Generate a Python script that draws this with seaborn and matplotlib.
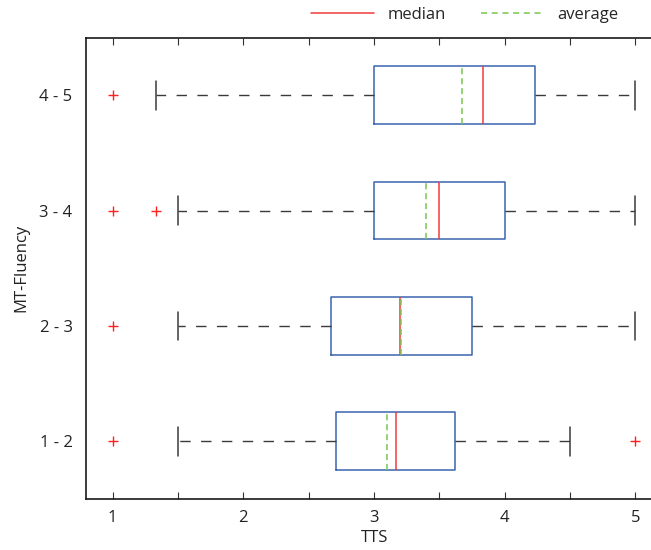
import matplotlib
matplotlib.use("Agg")
import matplotlib.pyplot as plt
from matplotlib.lines import Line2D
from matplotlib.patches import Rectangle
import seaborn as sns
import pandas as pd

# Fluency groups, bottom to top
groups = ["1 - 2", "2 - 3", "3 - 4", "4 - 5"]

# TTS summary statistics per group
whisker_low = [1.5, 1.5, 1.5, 1.33]
q1 = [2.71, 2.67, 3.0, 3.0]
medians = [3.17, 3.20, 3.50, 3.83]
means = [3.10, 3.21, 3.40, 3.67]
q3 = [3.62, 3.75, 4.0, 4.23]
whisker_high = [4.5, 5.0, 5.0, 5.0]

# Outliers beyond the whiskers
outlier_group = ["1 - 2", "1 - 2", "2 - 3", "3 - 4", "3 - 4", "4 - 5"]
outlier_value = [1.0, 5.0, 1.0, 1.0, 1.33, 1.0]

sns.set_style("ticks")
plt.rcParams["font.family"] = ["Open Sans", "DejaVu Sans"]

W, H = 651, 550
fig = plt.figure(figsize=(W / 100, H / 100), dpi=100)
px_per_unit = 130.7
left_px, right_px, top_px, bottom_px = 86.5, 663.0, 37.5, 499.0
xmin = 0.8
xmax = xmin + (right_px - left_px) / px_per_unit
ax = fig.add_axes([left_px / W, (H - bottom_px) / H,
                   (right_px - left_px) / W, (bottom_px - top_px) / H])

stats = []
for i, g in enumerate(groups):
    stats.append(dict(label=g, whislo=whisker_low[i], q1=q1[i], med=medians[i],
                      mean=means[i], q3=q3[i], whishi=whisker_high[i], fliers=[]))

positions = list(range(1, len(groups) + 1))
blue = "#3a64b0"
red = "#f03a3a"
green = "#78c850"
grey = "#3a3a3a"

ax.bxp(stats, positions=positions, vert=False, widths=0.5, capwidths=0.25,
       showmeans=True, meanline=True, showfliers=False,
       boxprops=dict(color=blue, linewidth=1.1),
       medianprops=dict(color=red, linewidth=1.1),
       meanprops=dict(color=green, linewidth=1.1, linestyle=(0, (4, 2.5))),
       whiskerprops=dict(color=grey, linewidth=1.0, linestyle=(0, (7.5, 7.5))),
       capprops=dict(color=grey, linewidth=1.1))

pos_of = {g: p for g, p in zip(groups, positions)}
out_df = pd.DataFrame({"TTS": outlier_value,
                       "pos": [pos_of[g] for g in outlier_group]})
sns.scatterplot(data=out_df, x="TTS", y="pos", marker="+", color="#ff2020",
                s=60, linewidth=1.0, ax=ax, legend=False, zorder=3)

ax.set_xlim(xmin, xmax)
ax.set_ylim(0.5, len(groups) + 0.5)
ax.set_yticks(positions)
ax.set_yticklabels(groups, fontsize=12, color="#222222")
ax.set_xticks([1, 2, 3, 4, 5])
ax.set_xticklabels(["1", "2", "3", "4", "5"], fontsize=12, color="#222222")
ax.set_xticks([1.5, 2.5, 3.5, 4.5], minor=True)
ax.tick_params(axis="x", which="both", direction="in", length=5, width=0.8,
               top=True, bottom=True, pad=8, color="#333333")
ax.tick_params(axis="y", which="both", length=0, pad=10, right=False)
ax.set_xlabel("TTS", fontsize=12, color="#222222", labelpad=3)
ax.set_ylabel("MT-Fluency", fontsize=12, color="#222222", labelpad=7)
for side in ["left", "bottom", "top"]:
    ax.spines[side].set_linewidth(1.2)
    ax.spines[side].set_color("#1a1a1a")
ax.spines["right"].set_visible(False)
ax.spines["right"].set_linewidth(0)
ax.patch.set_edgecolor("none")

# Keep the open right side of the frame clean at the figure edge
fig.patches.append(Rectangle(((W - 5) / W, (H - bottom_px + 2) / H), 5 / W,
                             (bottom_px - top_px - 4) / H,
                             transform=fig.transFigure, facecolor="white",
                             edgecolor="none", zorder=10))

handles = [Line2D([], [], color=red, linewidth=1.1),
           Line2D([], [], color=green, linewidth=1.1, linestyle=(0, (4, 3)))]
fig.legend(handles, ["median", "average"], loc="center left",
           bbox_to_anchor=(311 / W, 1 - 15 / H), ncol=2, frameon=False,
           fontsize=12, handlelength=3.8, handletextpad=0.8,
           columnspacing=2.1, borderpad=0, borderaxespad=0)

fig.savefig("out.png", dpi=100)
